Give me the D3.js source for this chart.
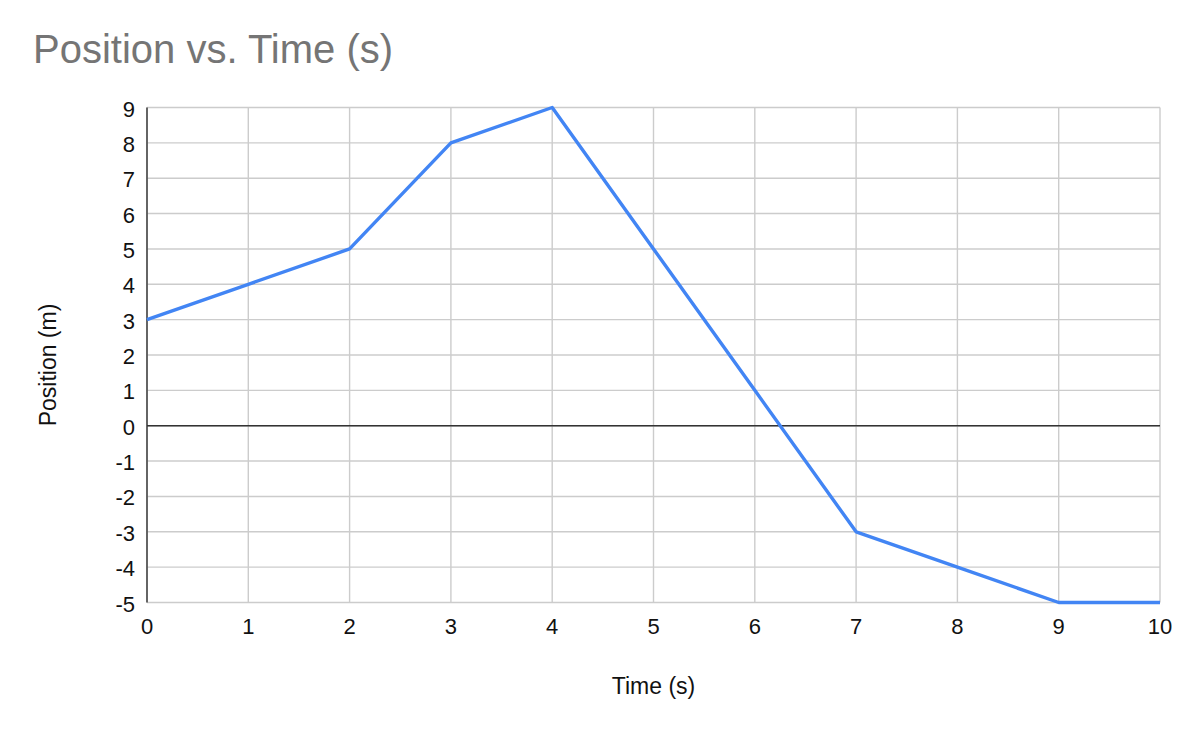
<!DOCTYPE html>
<html><head><meta charset="utf-8">
<script src="https://cdn.jsdelivr.net/npm/d3@7"></script>
<style>body{margin:0;background:#fff}svg{display:block}text{font-family:Arial,"Liberation Sans",sans-serif}</style>
</head><body>
<svg id="c" width="1194" height="736"></svg>
<script>
const times = [0,1,2,3,4,5,6,7,8,9,10];
const positions = [3,4,5,8,9,5,1,-3,-4,-5,-5];
const xTicks = [0,1,2,3,4,5,6,7,8,9,10];
const yTicks = [-5,-4,-3,-2,-1,0,1,2,3,4,5,6,7,8,9];
const title = "Position vs. Time (s)";
const xTitle = "Time (s)";
const yTitle = "Position (m)";

const svg = d3.select("#c");
const L = 147, R = 1160, T = 107.5, B = 602.5;
const x = d3.scaleLinear().domain([0,10]).range([L,R]);
const y = d3.scaleLinear().domain([-5,9]).range([B,T]);

svg.append("text").attr("x",33).attr("y",63).attr("font-size",40).attr("fill","#757575").text(title);

const g = svg.append("g");
g.selectAll(".vg").data(xTicks).join("line")
  .attr("x1",d=>x(d)).attr("x2",d=>x(d)).attr("y1",T).attr("y2",B)
  .attr("stroke","#cccccc").attr("stroke-width",1.4);
g.selectAll(".hg").data(yTicks).join("line")
  .attr("x1",L).attr("x2",R).attr("y1",d=>y(d)).attr("y2",d=>y(d))
  .attr("stroke","#cccccc").attr("stroke-width",1.4);

g.append("line").attr("x1",L).attr("x2",R).attr("y1",y(0)).attr("y2",y(0)).attr("stroke","#333").attr("stroke-width",1.4);
g.append("line").attr("x1",L).attr("x2",L).attr("y1",T).attr("y2",B).attr("stroke","#333").attr("stroke-width",1.4);

const line = d3.line().x((d,i)=>x(times[i])).y(d=>y(d));
svg.append("path").datum(positions).attr("d",line).attr("fill","none")
  .attr("stroke","#4285f4").attr("stroke-width",3.4).attr("stroke-linejoin","round");

svg.selectAll(".yl").data(yTicks).join("text")
  .attr("x",L-12).attr("y",d=>y(d)+9).attr("text-anchor","end")
  .attr("font-size",22).attr("fill","#111").text(d=>d);
svg.selectAll(".xl").data(xTicks).join("text")
  .attr("x",d=>x(d)).attr("y",633.5).attr("text-anchor","middle")
  .attr("font-size",22).attr("fill","#111").text(d=>d);

svg.append("text").attr("x",(L+R)/2).attr("y",694).attr("text-anchor","middle")
  .attr("font-size",23).attr("fill","#111").text(xTitle);
svg.append("text").attr("transform",`translate(56,365) rotate(-90)`).attr("text-anchor","middle")
  .attr("font-size",23).attr("fill","#111").text(yTitle);
</script>
</body></html>
